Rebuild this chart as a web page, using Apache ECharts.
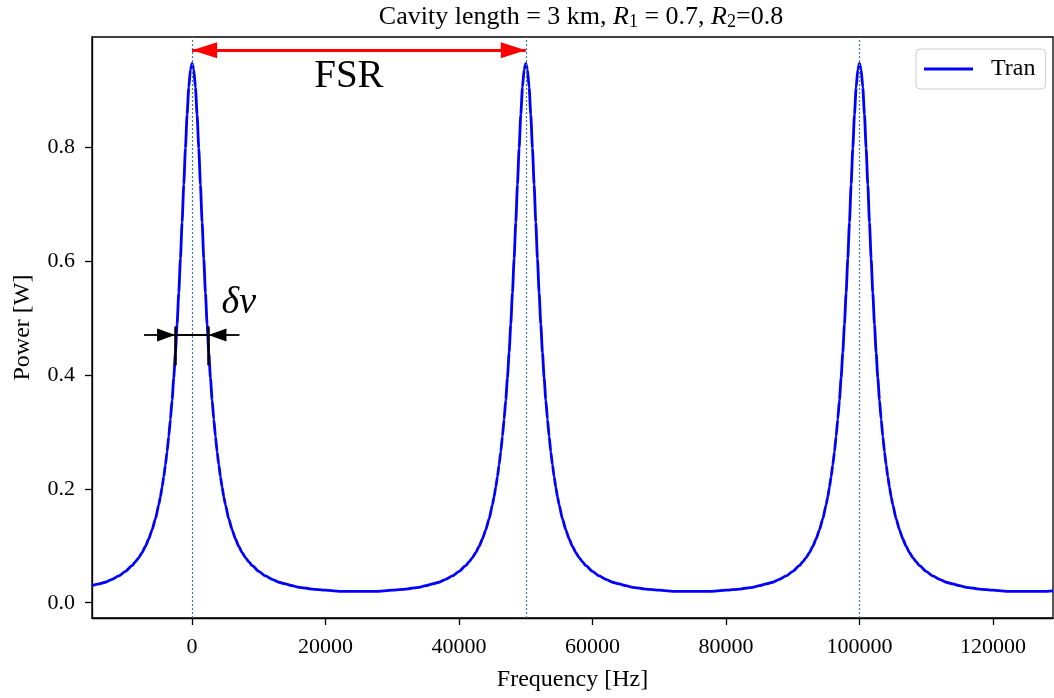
<!DOCTYPE html>
<html>
<head>
<meta charset="utf-8">
<script src="https://cdn.jsdelivr.net/npm/echarts@6/dist/echarts.min.js"></script>
<style>
  html, body { margin: 0; padding: 0; background: #fff; }
  #chart { width: 1054px; height: 698px; }
</style>
</head>
<body>
<div id="chart"></div>
<script>
// ---- data ----
const freqHz = [
  -15000,-14000,-13000,-12000,-11000,-10000,-9000,-8500,-8000,-7500,-7000,-6500,-6000,-5500,-5000,-4750,-4500,-4250,-4000,-3750,-3500,-3250,-3000,-2750,-2500,-2250,-2000,-1750,-1500,-1250,-1000,-750,-500,-250,0,
  250,500,750,1000,1250,1500,1750,2000,2250,2500,2750,3000,3250,3500,3750,4000,4250,4500,4750,5000,5500,6000,6500,7000,7500,8000,8500,9000,10000,11000,12000,13000,14000,15000,16000,18000,20000,22500,25000,
  27500,30000,32000,34000,35000,36000,37000,38000,39000,40000,41000,41500,42000,42500,43000,43500,44000,44500,45000,45250,45500,45750,46000,46250,46500,46750,47000,47250,47500,47750,48000,48250,48500,48750,49000,49250,49500,49750,50000,
  50250,50500,50750,51000,51250,51500,51750,52000,52250,52500,52750,53000,53250,53500,53750,54000,54250,54500,54750,55000,55500,56000,56500,57000,57500,58000,58500,59000,60000,61000,62000,63000,64000,65000,66000,68000,70000,72500,75000,
  77500,80000,82000,84000,85000,86000,87000,88000,89000,90000,91000,91500,92000,92500,93000,93500,94000,94500,95000,95250,95500,95750,96000,96250,96500,96750,97000,97250,97500,97750,98000,98250,98500,98750,99000,99250,99500,99750,100000,
  100250,100500,100750,101000,101250,101500,101750,102000,102250,102500,102750,103000,103250,103500,103750,104000,104250,104500,104750,105000,105500,106000,106500,107000,107500,108000,108500,109000,110000,111000,112000,113000,114000,115000,116000,118000,120000,122500,125000,127500,129000
];
const powerW = [
  0.030,0.033,0.036,0.041,0.047,0.055,0.065,0.072,0.079,0.088,0.099,0.112,0.128,0.147,0.172,0.186,0.203,0.221,0.242,0.265,0.292,0.322,0.356,0.395,0.439,0.489,0.544,0.604,0.668,0.734,0.798,0.857,0.905,0.936,0.947,
  0.936,0.905,0.857,0.798,0.734,0.668,0.604,0.544,0.489,0.439,0.395,0.356,0.322,0.292,0.265,0.242,0.221,0.203,0.186,0.172,0.147,0.128,0.112,0.099,0.088,0.079,0.072,0.065,0.055,0.047,0.041,0.036,0.033,0.030,0.027,0.024,0.022,0.020,0.020,
  0.020,0.022,0.024,0.027,0.030,0.033,0.036,0.041,0.047,0.055,0.065,0.072,0.079,0.088,0.099,0.112,0.128,0.147,0.172,0.186,0.203,0.221,0.242,0.265,0.292,0.322,0.356,0.395,0.439,0.489,0.544,0.604,0.668,0.734,0.798,0.857,0.905,0.936,0.947,
  0.936,0.905,0.857,0.798,0.734,0.668,0.604,0.544,0.489,0.439,0.395,0.356,0.322,0.292,0.265,0.242,0.221,0.203,0.186,0.172,0.147,0.128,0.112,0.099,0.088,0.079,0.072,0.065,0.055,0.047,0.041,0.036,0.033,0.030,0.027,0.024,0.022,0.020,0.020,
  0.020,0.022,0.024,0.027,0.030,0.033,0.036,0.041,0.047,0.055,0.065,0.072,0.079,0.088,0.099,0.112,0.128,0.147,0.172,0.186,0.203,0.221,0.242,0.265,0.292,0.322,0.356,0.395,0.439,0.489,0.544,0.604,0.668,0.734,0.798,0.857,0.905,0.936,0.947,
  0.936,0.905,0.857,0.798,0.734,0.668,0.604,0.544,0.489,0.439,0.395,0.356,0.322,0.292,0.265,0.242,0.221,0.203,0.186,0.172,0.147,0.128,0.112,0.099,0.088,0.079,0.072,0.065,0.055,0.047,0.041,0.036,0.033,0.030,0.027,0.024,0.022,0.020,0.020,0.020,0.021
];
const peakFreqs = [0, 50000, 100000];
const xTicks = [0, 20000, 40000, 60000, 80000, 100000, 120000];
const yTicks = [0.0, 0.2, 0.4, 0.6, 0.8];
const xRange = [-15000, 129000];
const yRange = [-0.0268, 0.9934];
// annotations (data coordinates)
const fsrArrow = { from: 0, to: 50000, y: 0.970 };
const fsrLabel = { x: 23500, y: 0.923, text: 'FSR' };
const fwhm = { left: -2550, right: 2450, y: 0.47, outerLeft: -7200, outerRight: 7100, barLow: 0.417, barHigh: 0.485 };
const fwhmLabel = { x: 7000, y: 0.527, text: 'δν' };

const serif = "'Liberation Serif', 'DejaVu Serif', serif";
// triangle whose tip sits at the symbol centre (extra empty sub-path balances the box)
const headPath = 'path://M0,-25L0,-25M0,0L8,25L-8,25Z';

const chart = echarts.init(document.getElementById('chart'), null, { renderer: 'canvas' });

const option = {
  backgroundColor: '#ffffff',
  animation: false,
  title: {
    text: 'Cavity length = 3 km, {i|R}{s|1} = 0.7, {i|R}{s|2}=0.8',
    left: 576,
    textAlign: 'center',
    top: -1,
    textStyle: {
      fontFamily: serif, fontSize: 26, fontWeight: 'normal', color: '#000',
      rich: {
        i: { fontFamily: serif, fontStyle: 'italic', fontSize: 26, color: '#000' },
        s: { fontFamily: serif, fontSize: 18, color: '#000', padding: [9, 0, 0, 0] }
      }
    }
  },
  legend: {
    data: ['Tran'],
    left: 916,
    top: 49,
    padding: [8, 10, 8, 8],
    icon: 'rect',
    itemWidth: 49,
    itemHeight: 3,
    backgroundColor: '#fff',
    borderColor: '#cccccc',
    borderWidth: 1,
    borderRadius: 4,
    textStyle: { fontFamily: serif, fontSize: 24, color: '#000', padding: [0, 0, 0, 13] }
  },
  grid: {
    left: 92, right: 1, top: 37, bottom: 80,
    show: true, borderColor: '#000', borderWidth: 1.3, backgroundColor: 'transparent'
  },
  xAxis: {
    type: 'value',
    min: xRange[0], max: xRange[1],
    name: 'Frequency [Hz]',
    nameLocation: 'middle',
    nameGap: 50,
    nameTextStyle: { fontFamily: serif, fontSize: 24, color: '#000' },
    axisLine: { show: true, onZero: false, lineStyle: { color: '#000', width: 1.3 } },
    axisTick: { show: true, length: 7, customValues: xTicks, lineStyle: { color: '#000', width: 1.3 } },
    axisLabel: { customValues: xTicks, margin: 18, fontFamily: serif, fontSize: 22, color: '#000', formatter: v => String(v) },
    splitLine: { show: false }
  },
  yAxis: {
    type: 'value',
    min: yRange[0], max: yRange[1],
    name: 'Power [W]',
    nameLocation: 'middle',
    nameGap: 57,
    nameTextStyle: { fontFamily: serif, fontSize: 24, color: '#000' },
    axisLine: { show: true, onZero: false, lineStyle: { color: '#000', width: 1.3 } },
    axisTick: { show: true, length: 7, customValues: yTicks, lineStyle: { color: '#000', width: 1.3 } },
    axisLabel: { customValues: yTicks, margin: 17, fontFamily: serif, fontSize: 22, color: '#000', formatter: v => v.toFixed(1) },
    splitLine: { show: false }
  },
  series: [
    {
      name: 'Tran',
      type: 'line',
      data: freqHz.map((f, i) => [f, powerW[i]]),
      symbol: 'none',
      smooth: 0.2,
      smoothMonotone: 'x',
      lineStyle: { color: '#0000ff', width: 2.8 },
      itemStyle: { color: '#0000ff' },
      z: 3
    },
    {
      name: 'annot',
      type: 'line',
      data: [],
      z: 5,
      markLine: {
        silent: true,
        label: { show: false },
        symbol: 'none',
        data: [
          ...peakFreqs.map(p => ({ xAxis: p, lineStyle: { color: '#3c78b4', width: 1.2, type: [2, 2] } })),
          [
            { coord: [fsrArrow.from, fsrArrow.y], symbol: headPath, symbolSize: [16, 50], lineStyle: { color: '#ff0000', width: 3, type: 'solid' }, itemStyle: { color: '#ff0000' } },
            { coord: [fsrArrow.to, fsrArrow.y], symbol: headPath, symbolSize: [16, 50] }
          ],
          [
            { coord: [fwhm.outerLeft, fwhm.y], symbol: 'none', lineStyle: { color: '#000', width: 1.8, type: 'solid' }, itemStyle: { color: '#000' } },
            { coord: [fwhm.left, fwhm.y], symbol: headPath, symbolSize: [13, 36] }
          ],
          [
            { coord: [fwhm.outerRight, fwhm.y], symbol: 'none', lineStyle: { color: '#000', width: 1.8, type: 'solid' }, itemStyle: { color: '#000' } },
            { coord: [fwhm.right, fwhm.y], symbol: headPath, symbolSize: [13, 36] }
          ],
          [
            { coord: [fwhm.left, fwhm.y], symbol: 'none', lineStyle: { color: '#000', width: 1.8, type: 'solid' } },
            { coord: [fwhm.right, fwhm.y], symbol: 'none' }
          ],
          [
            { coord: [fwhm.left, fwhm.barLow], symbol: 'none', lineStyle: { color: '#000', width: 2.5, type: 'solid' } },
            { coord: [fwhm.left, fwhm.barHigh], symbol: 'none' }
          ],
          [
            { coord: [fwhm.right, fwhm.barLow], symbol: 'none', lineStyle: { color: '#000', width: 2.5, type: 'solid' } },
            { coord: [fwhm.right, fwhm.barHigh], symbol: 'none' }
          ]
        ]
      }
    },
    {
      name: 'labels',
      type: 'scatter',
      symbolSize: 1,
      itemStyle: { color: 'transparent', opacity: 1 },
      silent: true,
      z: 6,
      data: [
        { value: [fsrLabel.x, fsrLabel.y], label: { show: true, position: 'inside', formatter: fsrLabel.text, fontFamily: serif, fontSize: 39, color: '#000000', opacity: 1 } },
        { value: [fwhmLabel.x, fwhmLabel.y], label: { show: true, position: 'inside', formatter: fwhmLabel.text, fontFamily: serif, fontStyle: 'italic', fontSize: 38, color: '#000000', opacity: 1 } }
      ]
    }
  ]
};
chart.setOption(option);
</script>
</body>
</html>
